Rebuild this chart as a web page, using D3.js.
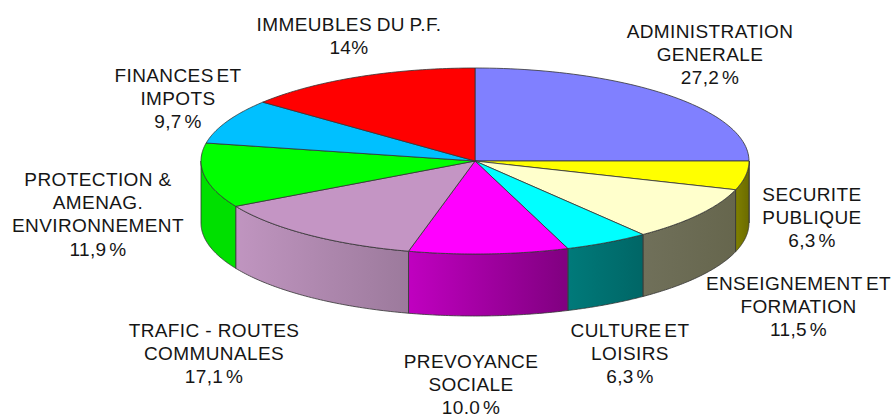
<!doctype html>
<html lang="en">
<head>
    <meta charset="UTF-8">
    <title>Pie 3D</title>
    <script src="https://d3js.org/d3.v7.min.js"></script>
    <style>
      html, body { margin: 0; background: #fff; }
      text { font-family: "Liberation Sans", Arial, sans-serif; font-size: 19px; letter-spacing: 0.4px; fill: #151515; }
    </style>
</head>
<body>
    <div id="chart"></div>

    <script>

      // Printed labels add up to 114, so the slices use the shares as drawn (percent of the turn)
      const categories = ['ADMINISTRATION GENERALE', 'SECURITE PUBLIQUE', 'ENSEIGNEMENT ET FORMATION',
        'CULTURE ET LOISIRS', 'PREVOYANCE SOCIALE', 'TRAFIC - ROUTES COMMUNALES',
        'PROTECTION & AMENAG. ENVIRONNEMENT', 'FINANCES ET IMPOTS', 'IMMEUBLES DU P.F.'];
      const drawnShares = [25, 5, 9.5, 5, 9.4, 13, 11.2, 7.8, 14.1];
      const topColors = ['#8080ff', '#ffff00', '#ffffcc', '#00ffff', '#ff00ff', '#c495c4', '#00ff00', '#00c0ff', '#ff0000'];
      // wall gradient, right end then left end
      const wallRight = ['#808000', '#6b6b00', '#66664d', '#006666', '#800080', '#9c7a9c', '#00e000', '#00c0ff', '#ff0000'];
      const wallLeft = ['#808000', '#808000', '#70705a', '#007a7a', '#c000c0', '#c095c0', '#00e000', '#00c0ff', '#ff0000'];

      // gap is the word spacing of that label, most of them are set tight
      const labels = [
        { lines: ['ADMINISTRATION', 'GENERALE', '27,2 %'], x: 710, y: 31, gap: -3 },
        { lines: ['SECURITE', 'PUBLIQUE', '6,3 %'], x: 812, y: 194, gap: -3 },
        { lines: ['ENSEIGNEMENT ET', 'FORMATION', '11,5 %'], x: 798.5, y: 283, gap: -2 },
        { lines: ['CULTURE ET', 'LOISIRS', '6,3 %'], x: 630, y: 330, gap: -3 },
        { lines: ['PREVOYANCE', 'SOCIALE', '10,0 %'], x: 471, y: 361, gap: -3 },
        { lines: ['TRAFIC - ROUTES', 'COMMUNALES', '17,1 %'], x: 214, y: 330, gap: 0 },
        { lines: ['PROTECTION &', 'AMENAG.', 'ENVIRONNEMENT', '11,9 %'], x: 98, y: 179, gap: 0 },
        { lines: ['FINANCES ET', 'IMPOTS', '9,7 %'], x: 178, y: 75, gap: -3 },
        { lines: ['IMMEUBLES DU P.F.', '14%'], x: 349, y: 24, gap: -1 }
      ];

      const width = 893, height = 414;
      const cx = 475, cy = 161, rx = 274, ry = 93, depth = 62;
      const lineHeight = 23.3;

      const svg = d3.select('#chart').append('svg')
          .attr('width', width)
          .attr('height', height)
          .style('display', 'block');

      const defs = svg.append('defs');

      const pie = d3.pie().sort(null);
      const slices = pie(drawnShares);

      // Angle is clockwise from the top of the ellipse
      const px = a => cx + rx * Math.sin(a);
      const py = a => cy - ry * Math.cos(a);
      const line = d3.line().x(d => d[0]).y(d => d[1]);
      const arcPoints = (a0, a1, dy) => d3.range(0, 61)
          .map(i => a0 + (a1 - a0) * i / 60)
          .map(a => [px(a), py(a) + dy]);

      // Walls, only the front half of the rim is visible
      slices.forEach((s, i) => {
        const a0 = Math.max(s.startAngle, Math.PI / 2);
        const a1 = Math.min(s.endAngle, Math.PI * 1.5);
        if (a1 <= a0) return;

        const grad = defs.append('linearGradient')
            .attr('id', `wall${i}`)
            .attr('gradientUnits', 'userSpaceOnUse')
            .attr('x1', px(a0)).attr('x2', px(a1))
            .attr('y1', 0).attr('y2', 0);
        grad.append('stop').attr('offset', 0).attr('stop-color', wallRight[i]);
        grad.append('stop').attr('offset', 1).attr('stop-color', wallLeft[i]);

        svg.append('path')
            .attr('d', line([...arcPoints(a0, a1, 0), ...arcPoints(a1, a0, depth)]) + 'Z')
            .attr('fill', `url(#wall${i})`)
            .attr('stroke', '#333')
            .attr('stroke-width', 0.8);
      });

      // Top faces
      svg.selectAll('path.top')
          .data(slices)
          .enter()
          .append('path')
          .attr('class', 'top')
          .attr('d', s => line([[cx, cy], ...arcPoints(s.startAngle, s.endAngle, 0)]) + 'Z')
          .attr('fill', (s, i) => topColors[i])
          .attr('stroke', '#333')
          .attr('stroke-width', 0.8);

      // Labels
      const label = svg.selectAll('g.label')
          .data(labels)
          .enter()
          .append('g')
          .attr('class', 'label')
          .attr('aria-label', (d, i) => categories[i]);

      label.selectAll('text')
          .data(d => d.lines.map((t, i) => ({ t, x: d.x, y: d.y + i * lineHeight, gap: t.endsWith(' %') ? -3 : d.gap })))
          .enter()
          .append('text')
          .attr('x', d => d.x)
          .attr('y', d => d.y)
          .attr('dy', '0.35em')
          .attr('text-anchor', 'middle')
          .style('word-spacing', d => `${d.gap}px`)
          .text(d => d.t);

    </script>

</body>
</html>
